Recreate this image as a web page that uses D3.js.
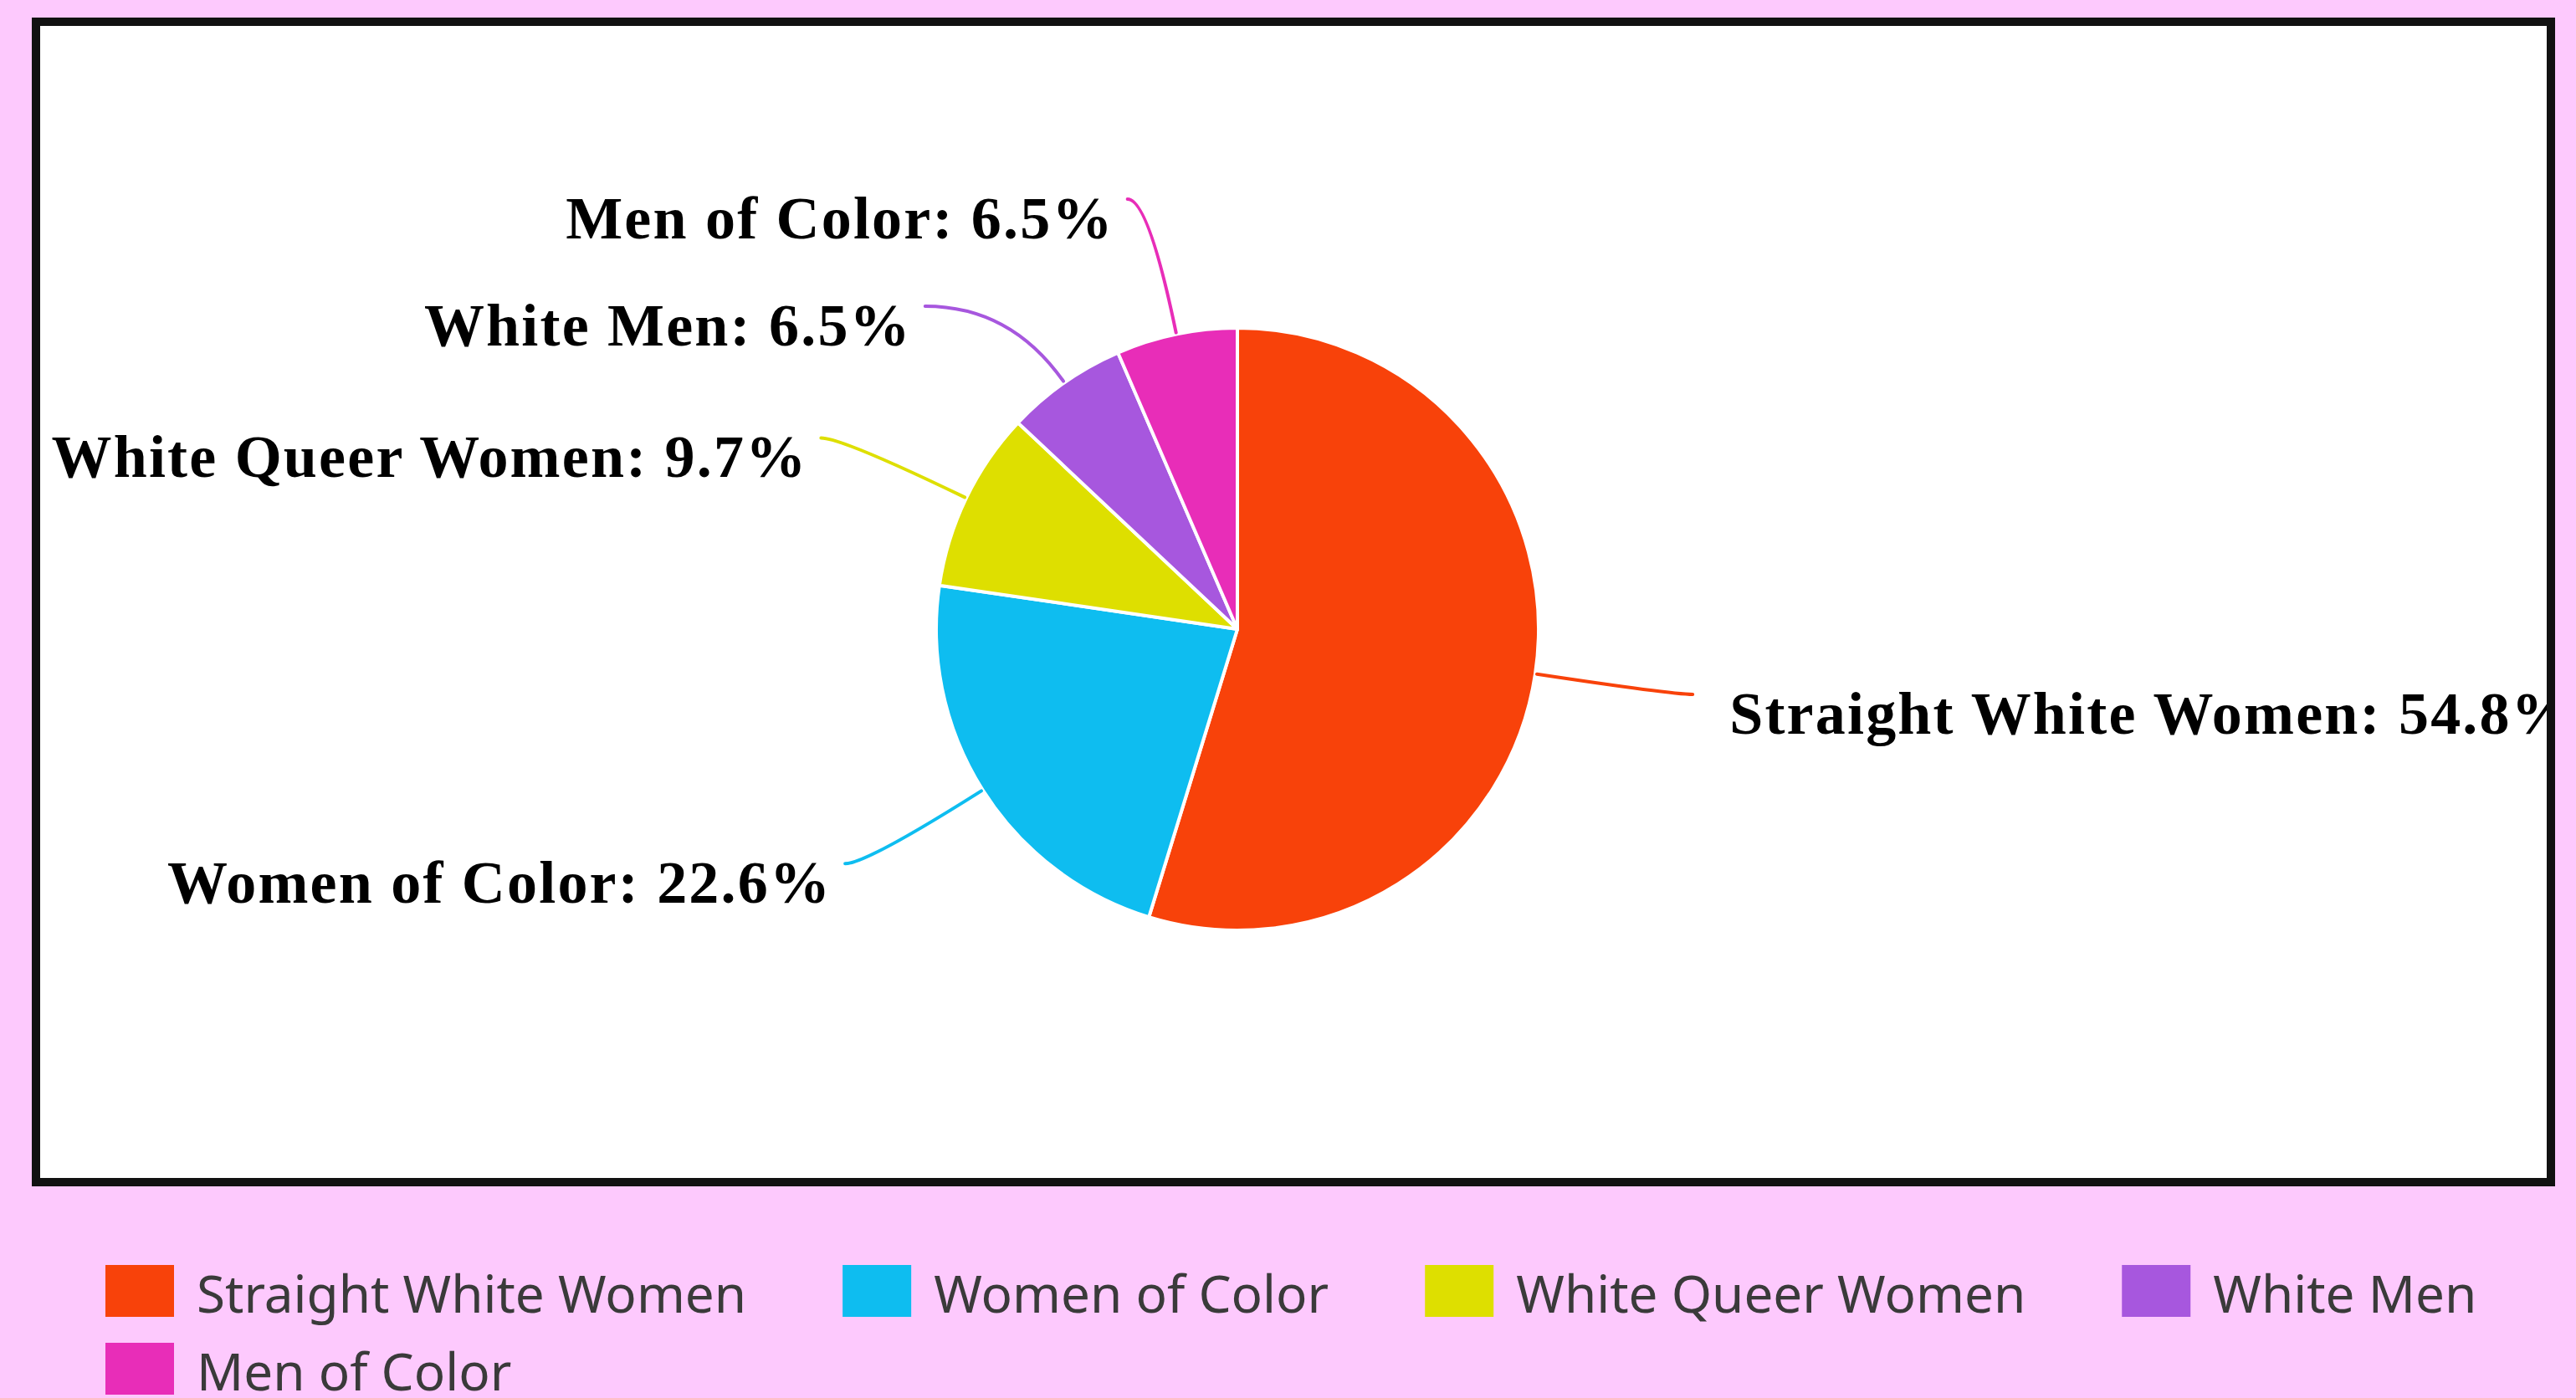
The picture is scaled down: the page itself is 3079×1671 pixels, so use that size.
<!DOCTYPE html>
<html>
<head>
<meta charset="utf-8">
<script src="https://cdn.jsdelivr.net/npm/d3@7"></script>
<style>
  html, body { margin: 0; padding: 0; background: #fdc9fd; }
  svg { display: block; }
</style>
</head>
<body>
<script>

var categories = ["Straight White Women", "Women of Color", "White Queer Women", "White Men", "Men of Color"];
var shares = [54.8, 22.6, 9.7, 6.5, 6.5];
var colors = ["#f8420a", "#0ebdf0", "#dedf00", "#a757de", "#e82db8"];

var W = 3079, H = 1671;

// framed plot box
var frame = {x: 43, y: 26, w: 3006, h: 1387, stroke: 10};
var cx = 1479, cy = 752;
var radius = 360;

var svg = d3.select("body")
        .append("svg")
        .attr("width", W)
        .attr("height", H);

svg.append("rect")
    .attr("width", W)
    .attr("height", H)
    .attr("fill", "#fdc9fd");

svg.append("rect")
    .attr("x", frame.x)
    .attr("y", frame.y)
    .attr("width", frame.w)
    .attr("height", frame.h)
    .attr("fill", "#fff")
    .attr("stroke", "#111")
    .attr("stroke-width", frame.stroke);

svg.append("clipPath")
    .attr("id", "inner")
    .append("rect")
    .attr("x", frame.x + frame.stroke / 2)
    .attr("y", frame.y + frame.stroke / 2)
    .attr("width", frame.w - frame.stroke)
    .attr("height", frame.h - frame.stroke);

var color = d3.scaleOrdinal().domain(categories).range(colors);

var data = categories.map(function(c, i) { return {name: c, value: shares[i]}; });

var pie = d3.pie()
        .sort(null)
        .value(function(d) { return d.value; });

var arc = d3.arc()
        .innerRadius(0)
        .outerRadius(radius);

var arcs = pie(data);

var g = svg.append("g")
        .attr("clip-path", "url(#inner)")
        .append("g")
        .attr("transform", "translate(" + cx + "," + cy + ")");

g.selectAll("path.slice")
    .data(arcs)
    .enter()
    .append("path")
    .attr("class", "slice")
    .attr("d", arc)
    .attr("fill", function(d) { return color(d.data.name); })
    .attr("stroke", "#fff")
    .attr("stroke-width", 4)
    .attr("stroke-linejoin", "round");

// label layout: elbow on a radial line, spread labels on each side
var elbowR = radius + 165;
var labelR = radius + 177;
var minGap = 128;

var labels = arcs.map(function(d) {
    var a = (d.startAngle + d.endAngle) / 2;
    return {
        d: d,
        a: a,
        side: Math.sin(a) >= 0 ? 1 : -1,
        y0: -elbowR * Math.cos(a),
        y: -elbowR * Math.cos(a)
    };
});

[1, -1].forEach(function(side) {
    var list = labels.filter(function(l) { return l.side === side; })
                     .sort(function(a, b) { return a.y - b.y; });
    for (var i = 1; i < list.length; i++) {
        if (list[i].y < list[i - 1].y + minGap) list[i].y = list[i - 1].y + minGap;
    }
});

labels.forEach(function(l) {
    var s = Math.sin(l.a), c = Math.cos(l.a);
    l.start = [(radius + 2) * s, -(radius + 2) * c];
    var t = Math.abs(c) > 0.05 ? l.y / -c : elbowR;
    l.ctrl = [t * s, l.y];
    if (Math.abs(l.y - l.y0) > 1) {
        l.end = [l.side * Math.sqrt(labelR * labelR - l.y * l.y), l.y];
    } else {
        l.end = [l.ctrl[0] + l.side * 25, l.y];
    }
});

g.selectAll("path.leader")
    .data(labels)
    .enter()
    .append("path")
    .attr("class", "leader")
    .attr("d", function(l) {
        var p = d3.path();
        p.moveTo(l.start[0], l.start[1]);
        p.quadraticCurveTo(l.ctrl[0], l.ctrl[1], l.end[0], l.end[1]);
        return p.toString();
    })
    .attr("fill", "none")
    .attr("stroke", function(l) { return color(l.d.data.name); })
    .attr("stroke-width", 4)
    .attr("stroke-linecap", "round");

var fmt = d3.format(".1f");

g.selectAll("text.label")
    .data(labels)
    .enter()
    .append("text")
    .attr("class", "label")
    .attr("x", function(l) { return l.side > 0 ? l.end[0] + 44 : l.end[0] - 16; })
    .attr("y", function(l) { return l.end[1] + 47; })
    .attr("text-anchor", function(l) { return l.side > 0 ? "start" : "end"; })
    .style("font-family", "'Liberation Serif', 'Times New Roman', serif")
    .style("font-weight", "bold")
    .style("font-size", "72px")
    .style("letter-spacing", "2.2px")
    .attr("fill", "#000")
    .text(function(l) { return l.d.data.name + ": " + fmt(l.d.data.value) + "%"; });

// legend, wrapping rows
var legend = {x: 126, y: 1512, sw: 82, sh: 62, pad: 27, gap: 115, row: 93, maxX: 3040};

var items = svg.append("g")
        .selectAll("g.item")
        .data(categories)
        .enter()
        .append("g")
        .attr("class", "item");

items.append("rect")
    .attr("width", legend.sw)
    .attr("height", legend.sh)
    .attr("fill", function(d) { return color(d); });

items.append("text")
    .attr("x", legend.sw + legend.pad)
    .attr("y", legend.sh - 5)
    .style("font-family", "'Noto Sans', 'Open Sans', sans-serif")
    .style("font-size", "62px")
    .attr("fill", "#3a3a3a")
    .text(function(d) { return d; });

var lx = legend.x, ly = legend.y;
items.each(function() {
    var w = legend.sw + legend.pad + d3.select(this).select("text").node().getComputedTextLength();
    if (lx + w > legend.maxX && lx > legend.x) {
        lx = legend.x;
        ly += legend.row;
    }
    d3.select(this).attr("transform", "translate(" + lx + "," + ly + ")");
    lx += w + legend.gap;
});

</script>
</body>
</html>
